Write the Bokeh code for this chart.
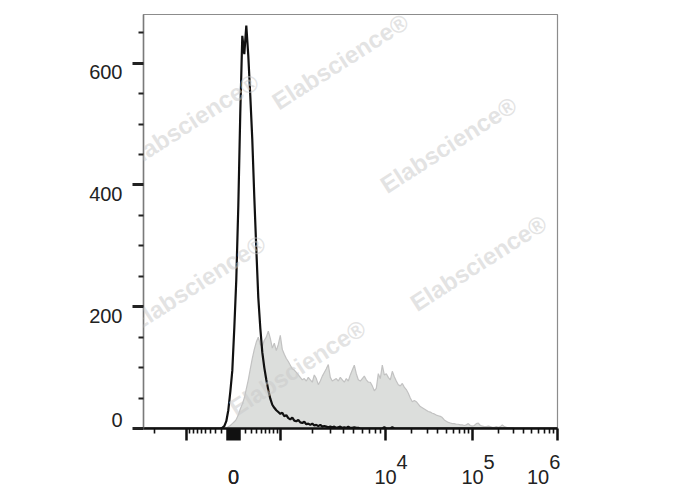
import json
import numpy as np
from bokeh.plotting import figure
from bokeh.models import FixedTicker, Label, CustomJSTickFormatter
from bokeh.embed import file_html
from bokeh.resources import INLINE

# ---------------- data ----------------
# histogram bins on the display (channel) scale
bin_start = 192
bin_width = 5

# unstained control (black line), counts per bin
black_counts = [
    0, 1, 4, 12, 30, 60, 95, 165, 245, 365,
    520, 645, 615, 662, 612, 546, 474, 380, 295, 215,
    165, 125, 100, 80, 63, 49, 39, 34, 30, 27,
    24, 26, 20, 22, 17, 15, 18, 13, 12, 14,
    10, 9, 11, 7, 8, 6, 8, 5, 6, 4,
    6, 3, 4, 3, 2, 3, 2, 3, 1, 2,
    3, 1, 2, 1, 3, 1, 1, 2, 1, 1,
    0, 0, 0, 0, 0, 0, 0, 0, 0, 0,
    0, 0, 2, 0, 0, 0, 2, 0, 0, 0,
    0, 0, 0, 0, 0, 0, 0, 0, 0, 0,
    0, 0, 0, 0, 0, 0, 0, 0, 0, 0,
    0, 0, 0, 0, 0, 0, 0, 0, 0, 0,
    0, 0, 0, 0, 0, 0, 0, 0, 0, 0,
    0, 0, 0, 0, 0, 0, 0, 0, 0, 0,
    0, 0, 0, 0, 0, 0, 0, 0, 0,
]

# stained sample (grey filled), counts per bin
grey_counts = [
    0, 0, 0, 1, 3, 5, 8, 11, 15, 22,
    32, 40, 50, 65, 80, 98, 115, 130, 142, 150,
    138, 135, 145, 150, 160, 148, 132, 140, 128, 138,
    153, 130, 122, 115, 110, 104, 98, 96, 92, 88,
    84, 80, 82, 78, 84, 80, 76, 88, 82, 72,
    78, 86, 92, 98, 105, 84, 78, 80, 82, 78,
    84, 80, 76, 82, 78, 88, 96, 104, 90, 80,
    78, 82, 86, 80, 76, 76, 70, 62, 66, 90,
    82, 104, 88, 90, 84, 80, 94, 85, 78, 72,
    70, 74, 68, 64, 58, 50, 44, 46, 44, 40,
    36, 34, 32, 30, 28, 27, 25, 24, 22, 21,
    20, 18, 14, 12, 10, 9, 8, 8, 7, 7,
    6, 6, 5, 6, 8, 5, 4, 5, 8, 9,
    5, 4, 3, 3, 4, 3, 2, 2, 3, 2,
    3, 6, 3, 2, 1, 1, 1, 0, 0,
]

# y axis
y_ticks = [0, 200, 400, 600]
y_tick_labels = ["0", "200", "400", "600"]
y_minor = [50, 100, 150, 250, 300, 350, 450, 500, 550, 650]

# x axis (fluorescence values)
x_major_values = [-1000, 0, 1000, 1e4, 1e5, 1e6]
x_block_values = list(range(-100, 101, 10))
x_minor_values = ([-1e4] + list(range(-900, -100, 100)) + list(range(200, 1000, 100))
                  + [k * 1e3 for k in range(2, 10)] + [k * 1e4 for k in range(2, 10)]
                  + [k * 1e5 for k in range(2, 10)])
x_label_values = [0, 1e4, 1e5, 1e6]
x_label_base = ["0", "10", "10", "10"]
x_label_exp = ["", "4", "5", "6"]

# ---------------- biexponential-like display transform ----------------
CH_MAX = 1035
ZERO_CH = 225.0
LIN_W = 600.0
DEC_CH = {-4: 27.5, -3: 107.5, 3: 342.5, 4: 605.0, 5: 822.5, 6: 1035.0}


def to_ch(v):
    v = float(v)
    if abs(v) < 1000:
        half = DEC_CH[3] - ZERO_CH
        return float(ZERO_CH + half * np.arcsinh(v / LIN_W) / np.arcsinh(1000 / LIN_W))
    lg = np.log10(abs(v))
    if v > 0:
        k = min(int(np.floor(lg)), 5)
        return float(DEC_CH[k] + (lg - k) * (DEC_CH[k + 1] - DEC_CH[k]))
    k = min(int(np.floor(lg)), 3)
    return float(DEC_CH[-k] + (lg - k) * (DEC_CH[-(k + 1)] - DEC_CH[-k]))


channels = bin_start + bin_width * np.arange(len(grey_counts))

p = figure(width=688, height=490, x_range=(0, CH_MAX), y_range=(0, 680),
           output_backend="svg", toolbar_location=None,
           min_border_left=143, min_border_right=131,
           min_border_top=14, min_border_bottom=62)
p.grid.visible = False
p.outline_line_color = "#8c8c8c"
p.outline_line_width = 1.2
p.background_fill_color = "white"
p.border_fill_color = "white"

# grey filled histogram
p.varea(x=channels, y1=0, y2=grey_counts, fill_color="#dcdedc")
p.line(x=channels, y=grey_counts, line_color="#c2c2c2", line_width=1.2)

# black histogram line (zero outside the listed bins)
bx = [0] + list(channels) + [CH_MAX]
by = [0] + black_counts + [0]
p.line(x=bx, y=by, line_color="#111111", line_width=2.2)

NB = "\u00a0"
FONT = "Liberation Sans"

# y axis: labels sit a little below their ticks, "0" a little above
ya = p.yaxis[0]
ya.ticker = FixedTicker(ticks=y_ticks, minor_ticks=y_minor)
ya.major_label_overrides = {t: (l + "\n" + NB if t == 0 else NB + "\n" + l)
                            for t, l in zip(y_ticks, y_tick_labels)}
ya.axis_line_color = "#7a7a7a"
ya.axis_line_width = 1.5
ya.major_tick_in = 0
ya.major_tick_out = 11
ya.major_tick_line_width = 3
ya.major_tick_line_color = "#222222"
ya.minor_tick_in = 0
ya.minor_tick_out = 5
ya.minor_tick_line_width = 2
ya.minor_tick_line_color = "#222222"
ya.major_label_standoff = 10
ya.major_label_text_font = FONT
ya.major_label_text_font_size = "20px"
ya.major_label_text_color = "#222222"
ya.major_label_text_line_height = 0.8

# x axis: "10" with a full size raised exponent, as two label lines
x_text = {}
for v, base, ex in zip(x_label_values, x_label_base, x_label_exp):
    if not ex:
        txt = NB + "\n" + base
    elif v == 1e6:
        txt = NB * 2 + ex + NB * 3 + "\n" + base + NB * 7
    else:
        txt = NB * 6 + ex + "\n" + base
    x_text[str(int(round(to_ch(v) * 10)))] = txt

xa = p.xaxis[0]
xa.ticker = FixedTicker(ticks=[to_ch(v) for v in x_major_values + x_block_values],
                        minor_ticks=[to_ch(v) for v in x_minor_values])
xa.formatter = CustomJSTickFormatter(
    code="const m = %s; const k = String(Math.round(tick*10)); return (k in m) ? m[k] : '';"
    % json.dumps(x_text))
xa.axis_line_color = "#111111"
xa.axis_line_width = 2.5
xa.major_tick_in = 0
xa.major_tick_out = 12
xa.major_tick_line_width = 2.5
xa.major_tick_line_color = "#111111"
xa.minor_tick_in = 0
xa.minor_tick_out = 5
xa.minor_tick_line_width = 1.6
xa.minor_tick_line_color = "#111111"
xa.major_label_standoff = 10
xa.major_label_text_font = FONT
xa.major_label_text_font_size = "20px"
xa.major_label_text_color = "#222222"
xa.major_label_text_line_height = 0.7

# watermark
wm_x = [492, 117.5, 762.5, 135, 837.5, 385]
wm_y = [603, 504, 466, 239, 272, 100]
for wx, wy in zip(wm_x, wm_y):
    p.add_layout(Label(x=wx, y=wy, text="Elabscience\u00ae", angle=0.57,
                       text_align="center", text_baseline="middle",
                       text_font=FONT, text_font_style="bold", text_font_size="24px",
                       text_color="#c8c8c8", text_alpha=0.5))

open("out.html", "w").write(file_html(p, INLINE))
